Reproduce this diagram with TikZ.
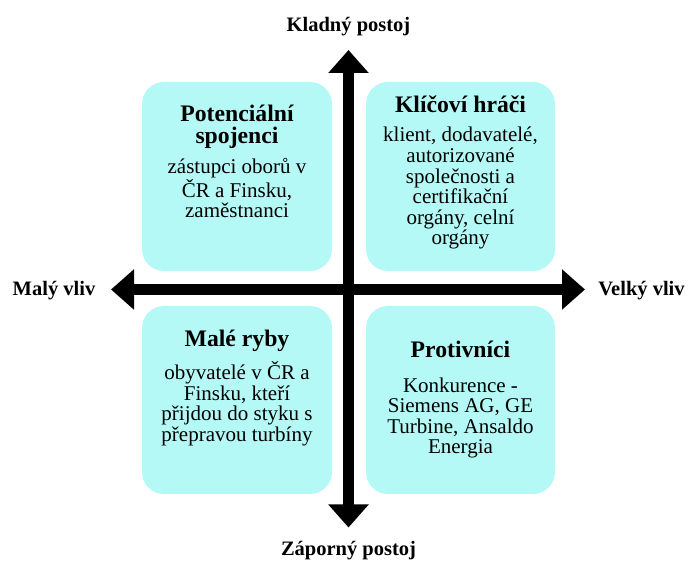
\documentclass[tikz,border=0pt]{standalone}
\usepackage{fontspec}
\setmainfont{Liberation Serif}
\usetikzlibrary{arrows.meta}
\definecolor{quadfill}{RGB}{181,249,246}
\tikzset{
  quad/.style={draw=none, fill=quadfill, rounded corners=22pt},
  % multi-line nodes: the base anchor sits on the last line
  quadtitle/.style={anchor=base, inner sep=0pt, align=center,
    font=\fontsize{23.7}{22}\selectfont\bfseries},
  quadbody/.style={anchor=base, inner sep=0pt, align=center,
    font=\fontsize{21}{20.6}\selectfont},
  axislabel/.style={anchor=base, inner sep=0pt,
    font=\fontsize{20.5}{24}\selectfont\bfseries},
  axis/.style={line width=10.5pt,
    {Triangle[width=39pt,length=23pt]}-{Triangle[width=39pt,length=23pt]}}
}
\begin{document}
\begin{tikzpicture}[x=1pt,y=-1pt]
\useasboundingbox (0,0) rectangle (689,561);

% quadrant boxes
\fill[quad] (142,82) rectangle (332,271);
\fill[quad] (366,82) rectangle (555,271);
\fill[quad] (142,306) rectangle (332,494);
\fill[quad] (366,306) rectangle (555,494);

% axes
\coordinate (top) at (348.5,50);
\coordinate (bottom) at (348.5,527.5);
\coordinate (left) at (111,289.5);
\coordinate (right) at (585,289.5);
\draw[axis] (bottom) -- (top);
\draw[axis] (left) -- (right);

% axis labels
\node[axislabel] (kladny) at (348.5,31.5) {Kladný postoj};
\node[axislabel] (zaporny) at (348.5,556) {Záporný postoj};
\node[axislabel] (maly) at (54,295.5) {Malý vliv};
\node[axislabel] (velky) at (641.5,295.5) {Velký vliv};

% top left
\node[quadtitle] (t1) at (237,144) {Potenciální\\spojenci};
\node[quadbody] (b1) at (237,218) {zástupci oborů v\\ČR a Finsku,\\zaměstnanci};
% top right
\node[quadtitle] (t2) at (460.5,112.7) {Klíčoví hráči};
\node[quadbody] (b2) at (460.5,245) {klient, dodavatelé,\\autorizované\\společnosti a\\certifikační\\orgány, celní\\orgány};
% bottom left
\node[quadtitle] (t3) at (237,346.7) {Malé ryby};
\node[quadbody] (b3) at (237,441.5) {obyvatelé v ČR a\\Finsku, kteří\\přijdou do styku s\\přepravou turbíny};
% bottom right
\node[quadtitle] (t4) at (460.5,358) {Protivníci};
\node[quadbody] (b4) at (460.5,454) {Konkurence -\\Siemens AG, GE\\Turbine, Ansaldo\\Energia};
\end{tikzpicture}
\end{document}
